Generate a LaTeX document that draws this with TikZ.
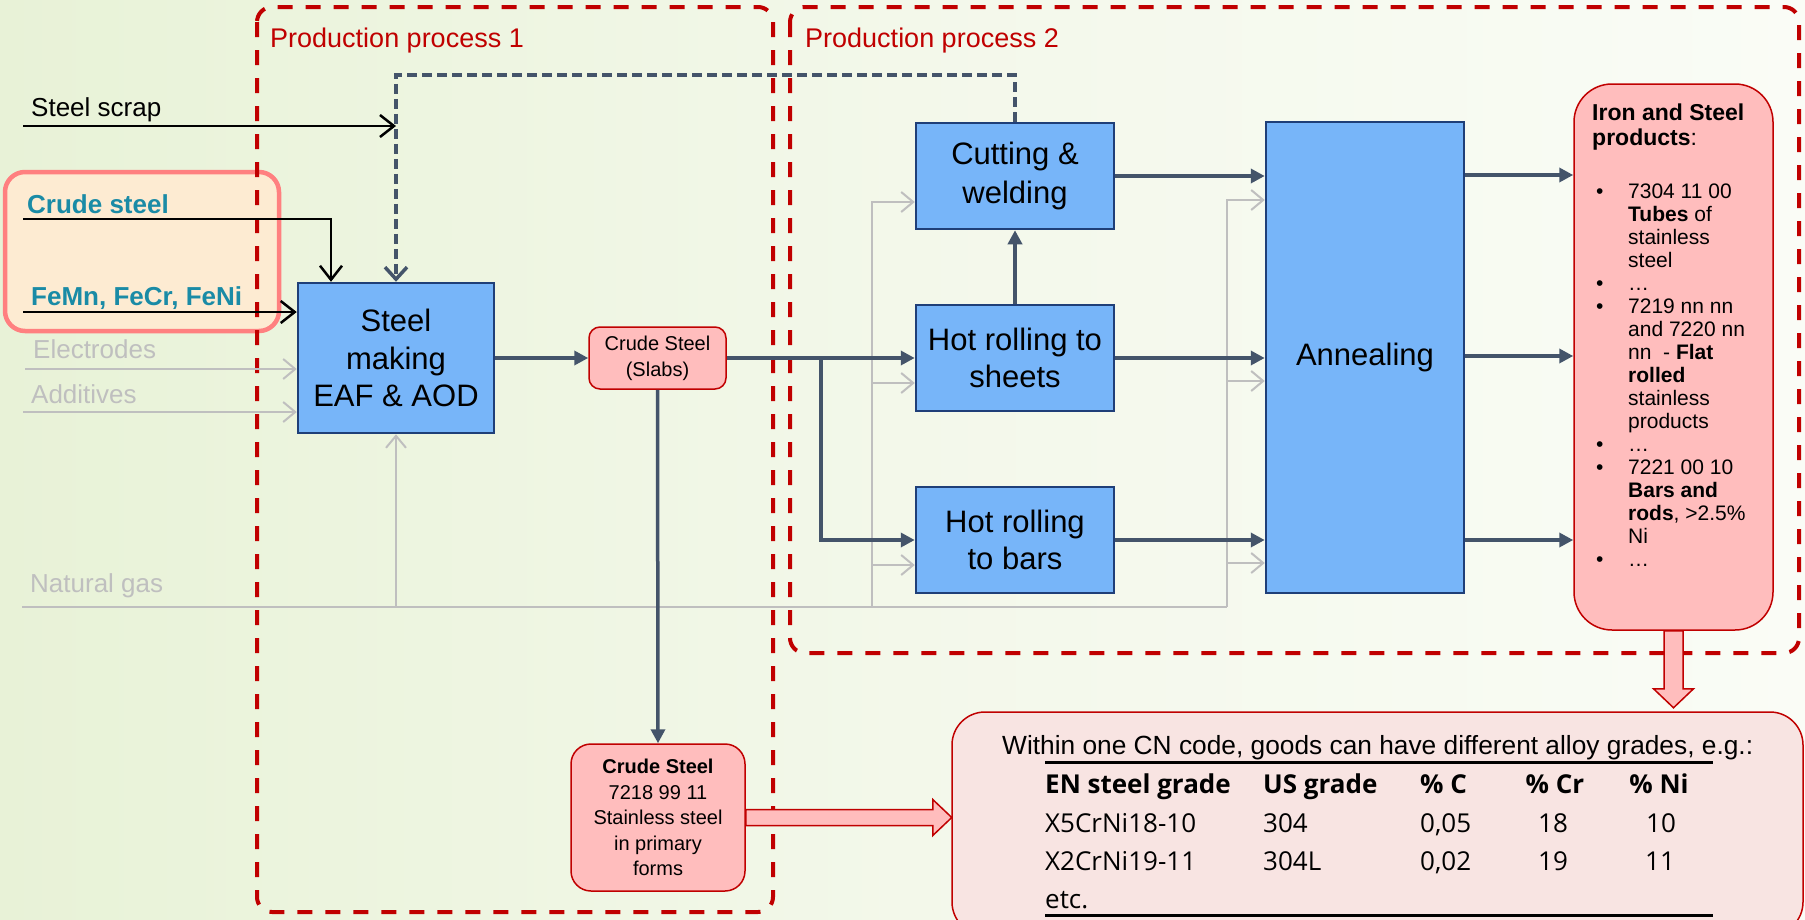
\documentclass[tikz,border=0pt]{standalone}
\usepackage{fontspec}
\setmainfont{Liberation Sans}
\newfontfamily\osans{Open Sans}
\usetikzlibrary{arrows.meta,calc}
\definecolor{bgA}{HTML}{E8F2D7}
\definecolor{bgB}{HTML}{F3F8EA}
\definecolor{bgC}{HTML}{FAFCF6}
\definecolor{boxblue}{HTML}{77B5F9}
\definecolor{boxedge}{HTML}{1F3F78}
\definecolor{pinkfill}{HTML}{FFBDBD}
\definecolor{darkred}{HTML}{C00000}
\definecolor{slate}{HTML}{44546A}
\definecolor{lgrey}{HTML}{BFBFBF}
\definecolor{tealtxt}{HTML}{1A8BA6}
\definecolor{hlfill}{HTML}{FDEBD2}
\definecolor{hledge}{HTML}{FF8080}
\definecolor{cnfill}{HTML}{F8E4E2}
\newcommand{\fsz}[2]{\fontsize{#1}{#2}\selectfont}
\newcommand{\pbul}{\makebox[32pt][l]{\textbullet}}
\newcommand{\pind}{\hspace*{32pt}}
\tikzset{
  blubox/.style={draw=boxedge, line width=2.5pt, fill=boxblue, align=center, inner sep=0pt, font=\fsz{31}{37.5}},
  pinkbox/.style={draw=darkred, line width=1.5pt, fill=pinkfill, align=center, inner sep=0pt},
  dk/.style={draw=slate, line width=3.5pt, -{Triangle[length=14pt,width=14pt]}},
  dashln/.style={draw=slate, line width=3.5pt, dash pattern=on 10pt off 5pt, -{Straight Barb[length=12pt,width=22pt]}},
  blk/.style={draw=black, line width=2.5pt, -{Straight Barb[length=14pt,width=22pt]}},
  gry/.style={draw=lgrey, line width=2pt},
  gryar/.style={gry, -{Straight Barb[length=12pt,width=20pt]}},
  procbox/.style={draw=darkred, line width=4pt, dash pattern=on 15pt off 13pt, rounded corners=15pt},
  lbl/.style={anchor=base west, inner sep=0pt, font=\fsz{26}{30}},
  cell/.style={anchor=base west, inner sep=0pt, font=\osans\fsz{26}{30}},
  cellc/.style={anchor=base, inner sep=0pt, font=\osans\fsz{26}{30}},
  fat/.style={draw=darkred, line width=1.5pt, fill=pinkfill}
}
\begin{document}
\begin{tikzpicture}[x=1pt,y=-1pt]
\useasboundingbox (0,0) rectangle (1805,919);
\begin{scope}
\clip (0,0) rectangle (1805,919);
\shade[left color=bgA, right color=bgC, middle color=bgB] (0,0) rectangle (1805,919);

% highlight
\node[draw=hledge, fill=hlfill, line width=4.5pt, rounded corners=20pt, minimum width=274pt, minimum height=159pt, inner sep=0pt] (hl) at (142,251.5) {};

% process frames
\draw[procbox] (257,7) rectangle (773,912);
\draw[procbox] (790,7) rectangle (1799,653);
\node[lbl, text=darkred, font=\fsz{27}{32}] (pp1) at (270,47) {Production process 1};
\node[lbl, text=darkred, font=\fsz{27}{32}] (pp2) at (805,47) {Production process 2};

% input labels
\node[lbl] (scrap) at (31,116) {Steel scrap};
\node[lbl, text=tealtxt, font=\fsz{26}{30}\bfseries] (crude) at (27,213) {Crude steel};
\node[lbl, text=tealtxt, font=\fsz{26}{30}\bfseries] (fe) at (31,305) {FeMn, FeCr, FeNi};
\node[lbl, text=lgrey] (elec) at (33,358) {Electrodes};
\node[lbl, text=lgrey] (add) at (31,403) {Additives};
\node[lbl, text=lgrey] (gas) at (30,592) {Natural gas};

% boxes
\node[blubox, minimum width=196pt, minimum height=150pt] (sm) at (396,358) {Steel\\making\\EAF \& AOD};
\node[pinkbox, rounded corners=11pt, minimum width=137pt, minimum height=62pt, font=\fsz{20}{26}] (slab) at (657.5,358) {Crude Steel\\(Slabs)};
\node[blubox, minimum width=198pt, minimum height=106pt, font=\fsz{31}{39}] (cut) at (1015,176) {Cutting \&\\welding};
\node[blubox, minimum width=198pt, minimum height=106pt, font=\fsz{31}{36.5}] (hrs) at (1015,358) {Hot rolling to\\sheets};
\node[blubox, minimum width=198pt, minimum height=106pt, font=\fsz{31}{37}] (hrb) at (1015,540) {Hot rolling\\to bars};
\node[blubox, minimum width=198pt, minimum height=471pt] (ann) at (1365,357.5) {Annealing};
\node[pinkbox, rounded corners=38pt, minimum width=199pt, minimum height=546pt] (prod) at (1673.5,357) {};
\node[pinkbox, rounded corners=20pt, minimum width=174pt, minimum height=147pt, font=\fsz{20}{25.5}] (cs) at (658,817.5) {\textbf{Crude Steel}\\7218 99 11\\Stainless steel\\in primary\\forms};
\node[draw=darkred, fill=cnfill, line width=1.5pt, rounded corners=33pt, minimum width=851pt, minimum height=223pt, inner sep=0pt] (cn) at (1377.5,823.5) {};

% product text (base anchor = last line)
\node[anchor=base west, inner sep=0pt, align=left, font=\fsz{23}{24.5}\bfseries] (prodt) at (1592,145) {Iron and Steel\\products\textmd{:}};
\node[anchor=base west, inner sep=0pt, align=left, font=\fsz{21}{23}] (prodl) at (1596,566) {\pbul 7304 11 00\\\pind\textbf{Tubes} of\\\pind stainless\\\pind steel\\\pbul …\\\pbul 7219 nn nn\\\pind and 7220 nn\\\pind nn~ - \textbf{Flat}\\\pind\textbf{rolled}\\\pind stainless\\\pind products\\\pbul …\\\pbul 7221 00 10\\\pind\textbf{Bars and}\\\pind\textbf{rods}, >2.5\%\\\pind Ni\\\pbul …};

% CN table
\node[anchor=base west, inner sep=0pt, font=\fsz{26.3}{30}] (cnh) at (1002,754) {Within one CN code, goods can have different alloy grades, e.g.:};
\coordinate (r1a) at (1045,762); \coordinate (r1b) at (1713,762);
\coordinate (r2a) at (1045,915); \coordinate (r2b) at (1713,915);
\draw[line width=3pt] (r1a) -- (r1b);
\draw[line width=3pt] (r2a) -- (r2b);
\node[cell, font=\osans\bfseries\fsz{26}{30}] (h1) at (1045,793) {EN steel grade};
\node[cell, font=\osans\bfseries\fsz{26}{30}] (h2) at (1263,793) {US grade};
\node[cell, font=\osans\bfseries\fsz{26}{30}] (h3) at (1420,793) {\% C};
\node[cellc, font=\osans\bfseries\fsz{26}{30}] (h4) at (1555,793) {\% Cr};
\node[cellc, font=\osans\bfseries\fsz{26}{30}] (h5) at (1659,793) {\% Ni};
\node[cell] (a1) at (1045,832) {X5CrNi18-10};
\node[cell] (a2) at (1263,832) {304};
\node[cell] (a3) at (1420,832) {0,05};
\node[cellc] (a4) at (1553,832) {18};
\node[cellc] (a5) at (1661,832) {10};
\node[cell] (b1) at (1045,870) {X2CrNi19-11};
\node[cell] (b2) at (1263,870) {304L};
\node[cell] (b3) at (1420,870) {0,02};
\node[cellc] (b4) at (1553,870) {19};
\node[cellc] (b5) at (1660,870) {11};
\node[cell] (etc) at (1045,908) {etc.};

% input coordinates
\coordinate (scrapS) at (23,126);
\coordinate (crS) at (23,219);
\coordinate (feS) at (23,312);
\coordinate (elS) at (25,369);
\coordinate (adS) at (23,412);
\coordinate (ngS) at (22,607);
\coordinate (ngE) at (1227,607);
\coordinate (g1) at (872,607);
\coordinate (br) at (821,358);

% black inputs
\draw[blk] (scrapS) -- (scrapS -| sm.north);
\draw[blk] (crS) -| ([xshift=-65pt]sm.north);
\draw[blk] (feS) -- (feS -| sm.west);
% grey inputs
\draw[gryar] (elS) -- (elS -| sm.west);
\draw[gryar] (adS) -- (adS -| sm.west);
\draw[gry] (ngS) -- (ngE);
\draw[gryar] (ngS -| sm.south) -- (sm.south);
\draw[gryar] (g1) |- ($(cut.west)+(0,26)$);
\draw[gryar] ($(g1 |- hrs.west)+(0,25)$) -- ($(hrs.west)+(0,25)$);
\draw[gryar] ($(g1 |- hrb.west)+(0,25)$) -- ($(hrb.west)+(0,25)$);
\draw[gryar] (ngE) |- ($(cut.east -| ann.west)+(0,24)$);
\draw[gryar] ($(ngE |- hrs.east)+(0,23)$) -- ($(hrs.east -| ann.west)+(0,23)$);
\draw[gryar] ($(ngE |- hrb.east)+(0,23)$) -- ($(hrb.east -| ann.west)+(0,23)$);

% recycled scrap (dashed)
\draw[dashln] (cut.north) -- ++(0,-47) -| (sm.north);

% main flow
\draw[dk] (sm.east) -- (slab.west);
\draw[dk] (slab.east) -- (hrs.west);
\draw[dk] (br) |- (hrb.west);
\draw[dk] (slab.south) -- (cs.north);
\draw[dk] (hrs.north) -- (cut.south);
\draw[dk] (cut.east) -- (cut.east -| ann.west);
\draw[dk] (hrs.east) -- (hrs.east -| ann.west);
\draw[dk] (hrb.east) -- (hrb.east -| ann.west);
\draw[dk] ($(cut.east -| ann.east)+(0,-1)$) -- ($(cut.east -| prod.west)+(0,-1)$);
\draw[dk] ($(hrs.east -| ann.east)+(0,-2)$) -- ($(hrs.east -| prod.west)+(0,-2)$);
\draw[dk] (hrb.east -| ann.east) -- (hrb.east -| prod.west);

% fat arrows
\draw[fat] ($(cs.east)+(0,-8)$) -- ++(187,0) -- ++(0,-10) -- ++(19,18) -- ++(-19,18) -- ++(0,-10) -- ($(cs.east)+(0,8)$) -- cycle;
\draw[fat] ($(prod.south)+(-9.5,0)$) -- ++(0,58) -- ++(-10.5,0) -- ++(20,19) -- ++(20,-19) -- ++(-10.5,0) -- ($(prod.south)+(9.5,0)$) -- cycle;
\end{scope}
\end{tikzpicture}
\end{document}
